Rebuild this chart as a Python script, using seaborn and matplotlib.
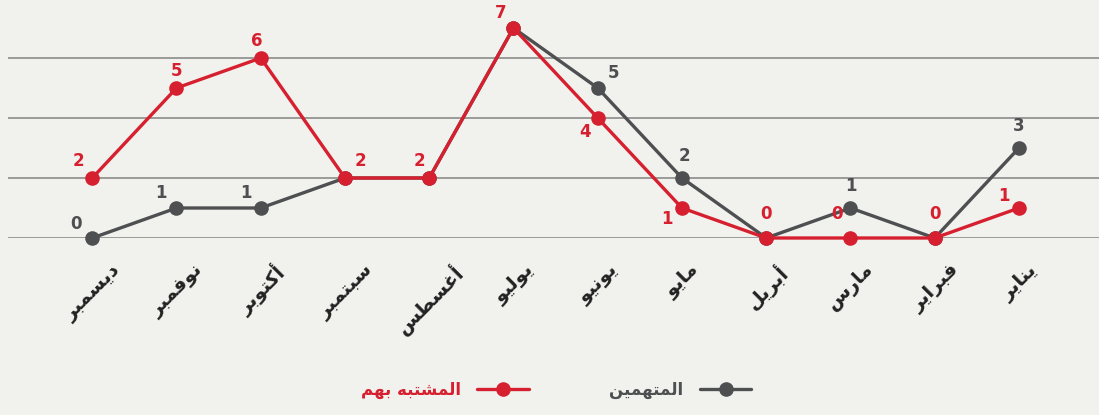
import numpy as np
import pandas as pd
import matplotlib
matplotlib.use("Agg")
import matplotlib.pyplot as plt
import seaborn as sns

# data, left to right as in the reference (right-to-left calendar)
months = ["ديسمبر", "نوفمبر", "أكتوبر", "سبتمبر", "أغسطس", "يوليو",
          "يونيو", "مايو", "أبريل", "مارس", "فبراير", "يناير"]
suspects = [2, 5, 6, 2, 2, 7, 4, 1, 0, 0, 0, 1]
accused = [0, 1, 1, 2, 2, 7, 5, 2, 0, 1, 0, 3]
suspects_name = "المشتبه بهم"
accused_name = "المتهمين"

RED = "#d7202f"
GREY = "#4d4f51"
BG = "#f1f1ee"

# minimal arabic shaping (matplotlib has no RTL / joining support)
FORMS = {  # isolated, final, initial, medial
    "ا": (0xFE8D, 0xFE8E, None, None), "أ": (0xFE83, 0xFE84, None, None),
    "ب": (0xFE8F, 0xFE90, 0xFE91, 0xFE92), "ت": (0xFE95, 0xFE96, 0xFE97, 0xFE98),
    "د": (0xFEA9, 0xFEAA, None, None), "ر": (0xFEAD, 0xFEAE, None, None),
    "س": (0xFEB1, 0xFEB2, 0xFEB3, 0xFEB4), "ش": (0xFEB5, 0xFEB6, 0xFEB7, 0xFEB8),
    "ط": (0xFEC1, 0xFEC2, 0xFEC3, 0xFEC4), "غ": (0xFECD, 0xFECE, 0xFECF, 0xFED0),
    "ف": (0xFED1, 0xFED2, 0xFED3, 0xFED4), "ك": (0xFED9, 0xFEDA, 0xFEDB, 0xFEDC),
    "ل": (0xFEDD, 0xFEDE, 0xFEDF, 0xFEE0), "م": (0xFEE1, 0xFEE2, 0xFEE3, 0xFEE4),
    "ن": (0xFEE5, 0xFEE6, 0xFEE7, 0xFEE8), "ه": (0xFEE9, 0xFEEA, 0xFEEB, 0xFEEC),
    "و": (0xFEED, 0xFEEE, None, None), "ي": (0xFEF1, 0xFEF2, 0xFEF3, 0xFEF4),
}


def shape(word):
    out = []
    for i, ch in enumerate(word):
        if ch not in FORMS:
            out.append(ch)
            continue
        prev = word[i - 1] if i > 0 else ""
        nxt = word[i + 1] if i + 1 < len(word) else ""
        joins_prev = prev in FORMS and FORMS[prev][2] is not None
        joins_next = FORMS[ch][2] is not None and nxt in FORMS
        iso, fin, ini, med = FORMS[ch]
        if joins_prev and joins_next:
            cp = med
        elif joins_prev:
            cp = fin
        elif joins_next:
            cp = ini
        else:
            cp = iso
        out.append(chr(cp))
    return "".join(out)[::-1]


sns.set_theme(style="white")
plt.rcParams["font.family"] = ["DejaVu Sans"]

red_lbl = shape(suspects_name)
grey_lbl = shape(accused_name)

x = np.arange(len(months))
df = pd.DataFrame({
    "month": np.concatenate([x, x]),
    "value": suspects + accused,
    "series": [red_lbl] * 12 + [grey_lbl] * 12,
})

fig = plt.figure(figsize=(10.99, 4.15), dpi=100, facecolor=BG)
ax = fig.add_axes([8 / 1099, 1 - 238 / 415, 1 - 8 / 1099, 228 / 415])
ax.set_facecolor(BG)

for yv in [0, 2, 4, 6]:
    ax.axhline(yv, color="#8c8c8a", lw=1.2, zorder=0)

# grey first so the red series sits on top
sns.lineplot(data=df, x="month", y="value", hue="series",
             palette={red_lbl: RED, grey_lbl: GREY}, hue_order=[grey_lbl, red_lbl],
             marker="o", markersize=10.5, markeredgewidth=0, linewidth=2.4,
             ax=ax, clip_on=False)

# value labels (offsets in points, chosen to dodge the lines)
red_off = [(-10, 12), (0, 12), (-3, 12), (11, 12), (-7, 12), (-9, 11),
           (-9, -10), (-11, -8), (0, 17), (-10, 17), (0, 17), (-11, 9)]
grey_off = [(-12, 10), (-11, 11), (-11, 11), None, None, None,
            (11, 11), (2, 16), None, (0, 16), None, (0, 16)]
for xi, v, off in zip(x, suspects, red_off):
    ax.annotate(str(v), (xi, v), xytext=off, textcoords="offset points",
                ha="center", va="center", color=RED, fontsize=12,
                fontweight="bold")
for xi, v, off in zip(x, accused, grey_off):
    if off is None:
        continue
    ax.annotate(str(v), (xi, v), xytext=off, textcoords="offset points",
                ha="center", va="center", color=GREY, fontsize=12,
                fontweight="bold")

ax.set_xlim(-1.0, 11.95)
ax.set_ylim(0, 7.6)
ax.set_xticks(x)
ax.set_xticklabels([shape(m) for m in months], rotation=45, ha="center",
                   va="top", fontsize=14, fontweight="bold", color="#222222")
ax.tick_params(axis="x", length=0, pad=16)
ax.set_yticks([])
ax.set_xlabel("")
ax.set_ylabel("")
sns.despine(ax=ax, left=True, bottom=True)

handles, labels = ax.get_legend_handles_labels()
ax.legend_.remove()
order = [labels.index(red_lbl), labels.index(grey_lbl)]
leg = fig.legend([handles[i] for i in order], [labels[i] for i in order],
                 loc="center", bbox_to_anchor=(0.506, 0.06), ncol=2,
                 frameon=False, markerfirst=False, handlelength=3.1,
                 handletextpad=1.0, columnspacing=4.8,
                 prop={"weight": "bold", "size": 12})
for txt, col in zip(leg.get_texts(), [RED, GREY]):
    txt.set_color(col)

fig.savefig("out.png", dpi=100, facecolor=BG)
